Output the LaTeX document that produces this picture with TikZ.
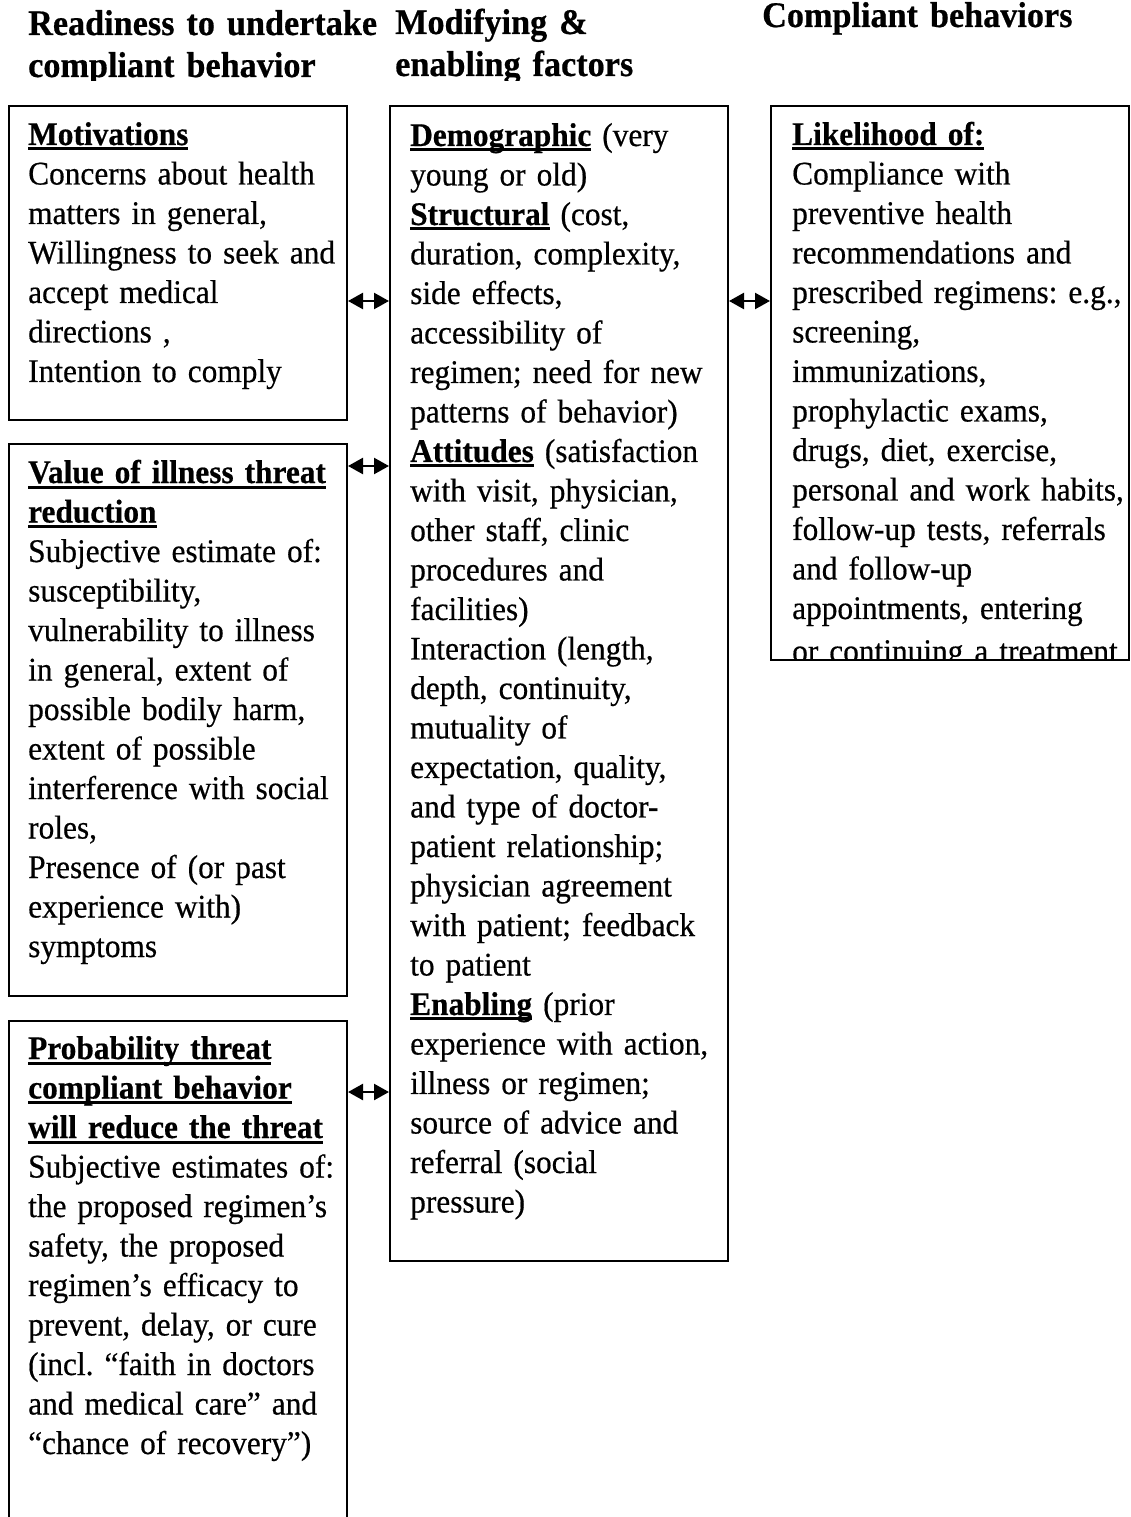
\documentclass[tikz,border=0pt]{standalone}
\usepackage{fontspec}
\setmainfont[FakeStretch=0.95, FakeBold=0.5]{Liberation Serif}
\usetikzlibrary{arrows.meta}

% bold heading with a thick underline
\newcommand\hdul[1]{\leavevmode\setbox0\hbox{\bfseries #1}\rlap{\rule[-5.5pt]{\wd0}{3pt}}\box0\relax}

\tikzset{
  frame/.style={draw=black, line width=2pt, rectangle, inner sep=0pt, anchor=north west},
  bodytext/.style={anchor=base west, inner sep=0pt, text width=420pt, align=left,
    font=\fontsize{33}{39.5}\selectfont\frenchspacing},
  headtext/.style={anchor=base west, inner sep=0pt, text width=420pt, align=left,
    font=\fontsize{36}{42}\selectfont\bfseries},
  link/.style={line width=2.4pt, {Triangle[length=15pt,width=16pt]}-{Triangle[length=15pt,width=16pt]}}
}

\begin{document}
\begin{tikzpicture}[x=1pt, y=-1pt]
\useasboundingbox (0,0) rectangle (1130,1517);
\clip (0,0) rectangle (1130,1517);

% column headings
\begin{scope}
  \clip (0,0) rectangle (1130,81);
  \node[headtext] (h1) at (28,35) {Readiness to undertake\\compliant behavior};
  \node[headtext] (h2) at (395,34) {Modifying \&\\enabling factors};
  \node[headtext] (h3) at (762,27) {Compliant behaviors};
\end{scope}

% boxes
\node[frame, minimum width=338pt, minimum height=314pt] (motiv) at (8,105) {};
\node[frame, minimum width=338pt, minimum height=552pt] (value) at (8,443) {};
\node[frame, minimum width=338pt, minimum height=540pt] (prob) at (8,1020) {};
\node[frame, minimum width=338pt, minimum height=1155pt] (mid) at (389,105) {};
\node[frame, minimum width=358pt, minimum height=554pt] (likely) at (770,105) {};

% box texts
\node[bodytext] (tmotiv) at (28,145) {\hdul{Motivations}\\
Concerns about health\\
matters in general,\\
Willingness to seek and\\
accept medical\\
directions ,\\
Intention to comply};

\node[bodytext] (tvalue) at (28,483) {\hdul{Value of illness threat}\\
\hdul{reduction}\\
Subjective estimate of:\\
susceptibility,\\
vulnerability to illness\\
in general, extent of\\
possible bodily harm,\\
extent of possible\\
interference with social\\
roles,\\
Presence of (or past\\
experience with)\\
symptoms};

\node[bodytext] (tprob) at (28,1059) {\hdul{Probability threat}\\
\hdul{compliant behavior}\\
\hdul{will reduce the threat}\\
Subjective estimates of:\\
the proposed regimen’s\\
safety, the proposed\\
regimen’s efficacy to\\
prevent, delay, or cure\\
(incl. “faith in doctors\\
and medical care” and\\
“chance of recovery”)};

\node[bodytext] (tmid) at (410,146) {\hdul{Demographic} (very\\
young or old)\\
\hdul{Structural} (cost,\\
duration, complexity,\\
side effects,\\
accessibility of\\
regimen; need for new\\
patterns of behavior)\\
\hdul{Attitudes} (satisfaction\\
with visit, physician,\\
other staff, clinic\\
procedures and\\
facilities)\\
Interaction (length,\\
depth, continuity,\\
mutuality of\\
expectation, quality,\\
and type of doctor-\\
patient relationship;\\
physician agreement\\
with patient; feedback\\
to patient\\
\hdul{Enabling} (prior\\
experience with action,\\
illness or regimen;\\
source of advice and\\
referral (social\\
pressure)};

\begin{scope}
  \clip (770,105) rectangle (1128,658);
  \node[bodytext] (tlikely) at (792,145) {\hdul{Likelihood of:}\\
Compliance with\\
preventive health\\
recommendations and\\
prescribed regimens: e.g.,\\
screening,\\
immunizations,\\
prophylactic exams,\\
drugs, diet, exercise,\\
personal and work habits,\\
follow-up tests, referrals\\
and follow-up\\
appointments, entering};
  \node[bodytext] (tlikelyend) at (792,662) {or continuing a treatment};
\end{scope}

% two-way links between columns
\coordinate (r1) at (0,301);
\coordinate (r2) at (0,466);
\coordinate (r3) at (0,1092);
\draw[link] (motiv.east |- r1) -- (mid.west |- r1);
\draw[link] (mid.east |- r1) -- (likely.west |- r1);
\draw[link] (value.east |- r2) -- (mid.west |- r2);
\draw[link] (prob.east |- r3) -- (mid.west |- r3);
\end{tikzpicture}
\end{document}
